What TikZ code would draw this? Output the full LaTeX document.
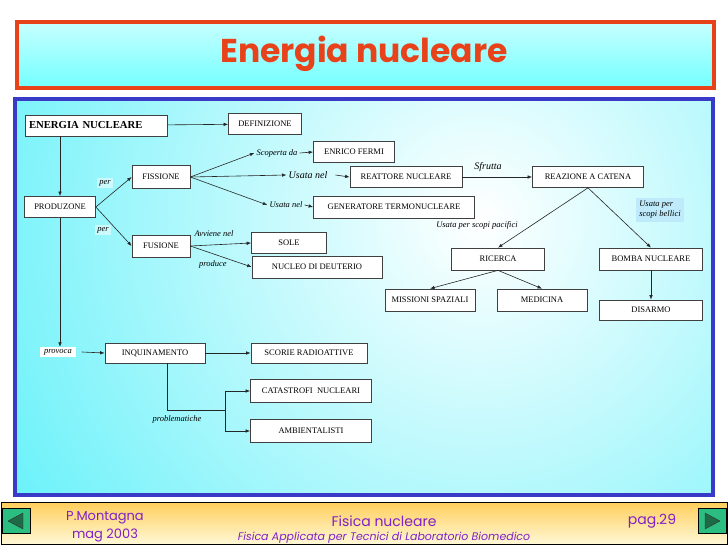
\documentclass[tikz,border=0pt]{standalone}
\usepackage{fontspec}
\setmainfont{Liberation Serif}
\newfontfamily\comicfont{Poppins}
\usetikzlibrary{arrows.meta, positioning}

\definecolor{titlered}{RGB}{232,66,26}
\definecolor{frameblue}{RGB}{58,58,200}
\definecolor{bgcyan}{RGB}{64,238,248}
\definecolor{footpurple}{RGB}{128,32,200}
\definecolor{footgold}{RGB}{255,206,90}
\definecolor{footcream}{RGB}{255,248,215}
\definecolor{btngreen}{RGB}{44,190,128}
\definecolor{btndark}{RGB}{30,105,70}

\tikzset{
  box/.style={draw=black!75, line width=0.7pt, fill=white, rectangle, inner sep=2pt, minimum height=21pt, font=\fontsize{8.5}{10}\selectfont},
  lbl/.style={font=\fontsize{8.5}{10}\selectfont\itshape, inner sep=2pt},
  link/.style={->, draw=black!85, line width=0.6pt},
  btn/.style={draw=black, fill=btngreen, minimum width=28pt, minimum height=25pt, inner sep=0pt},
  foot/.style={text=footpurple, font=\comicfont\fontsize{13}{14}\selectfont, inner sep=0pt},
}

\begin{document}
\begin{tikzpicture}[x=1pt, y=-1pt, >={Latex[length=4.5pt,width=3.5pt]}]
  \useasboundingbox (0,0) rectangle (728,546);
  \fill[white] (0,0) rectangle (728,546);

  % titolo
  \shade[top color=cyan!22, middle color=white, bottom color=cyan!55] (17,22) rectangle (714,88);
  \draw[titlered, line width=4pt] (17,22) rectangle (714,88);
  \node[font=\comicfont\bfseries\fontsize{33}{33}\selectfont, text=titlered] (title) at (364,54) {Energia nucleare};

  % riquadro
  \begin{scope}
    \clip (15,99) rectangle (713,495);
    \shade[inner color=white, outer color=bgcyan] (-220,-480) rectangle (1180,920);
  \end{scope}
  \draw[frameblue, line width=4pt] (15,99) rectangle (713,495);

  % nodi
  \node[box, minimum width=142pt, text width=134pt, align=left, font=\bfseries\fontsize{10.7}{12}\selectfont] (en) at (96,125.5) {ENERGIA NUCLEARE};
  \node[box, minimum width=73pt] (def) at (265,124) {DEFINIZIONE};
  \node[box, minimum width=71pt] (prod) at (60,207) {PRODUZONE};
  \node[box, minimum width=58pt, minimum height=23pt] (fiss) at (161,177) {FISSIONE};
  \node[box, minimum width=58pt, minimum height=22pt] (fus) at (161,246) {FUSIONE};
  \node[box, minimum width=81pt] (fermi) at (354,152) {ENRICO FERMI};
  \node[box, minimum width=112pt] (reatt) at (406,177) {REATTORE NUCLEARE};
  \node[box, minimum width=161pt, minimum height=22pt] (gen) at (394,207) {GENERATORE TERMONUCLEARE};
  \node[box, minimum width=75pt] (sole) at (289,243) {SOLE};
  \node[box, minimum width=130pt, minimum height=22pt] (nucleo) at (317,267) {NUCLEO DI DEUTERIO};
  \node[box, minimum width=111pt] (reaz) at (588,177) {REAZIONE A CATENA};
  \node[box, minimum width=93pt, minimum height=22pt] (ric) at (498,259) {RICERCA};
  \node[box, minimum width=103pt, minimum height=22pt] (bomba) at (651,259) {BOMBA NUCLEARE};
  \node[box, minimum width=90pt, minimum height=22pt] (miss) at (430,300) {MISSIONI SPAZIALI};
  \node[box, minimum width=90pt, minimum height=22pt] (med) at (542,300) {MEDICINA};
  \node[box, minimum width=103pt, minimum height=20pt] (dis) at (651,310) {DISARMO};
  \node[box, minimum width=100pt, minimum height=20pt] (inq) at (155,353) {INQUINAMENTO};
  \node[box, minimum width=116pt, minimum height=20pt] (scorie) at (309,353) {SCORIE RADIOATTIVE};
  \node[box, minimum width=121pt, minimum height=23pt] (cat) at (311,391) {CATASTROFI\ \ NUCLEARI};
  \node[box, minimum width=121pt, minimum height=23pt] (amb) at (311,431) {AMBIENTALISTI};

  % etichette
  \node[lbl] (scop) at (277,153) {Scoperta da};
  \node[lbl, font=\fontsize{10}{12}\selectfont\itshape] (usata1) at (308,175) {Usata nel};
  \node[lbl] (usata2) at (286,205) {Usata nel};
  \node[lbl, font=\fontsize{10}{12}\selectfont\itshape] (sfrutta) at (488,167) {Sfrutta};
  \node[lbl, fill=white, fill opacity=0.5, text opacity=1] (per1) at (105,183) {per};
  \node[lbl, fill=white, fill opacity=0.5, text opacity=1] (per2) at (103,230) {per};
  \node[lbl] (avv) at (214,234) {Avviene nel};
  \node[lbl] (prodc) at (213,264) {produce};
  \node[lbl, fill=white, inner xsep=4pt] (provoca) at (58,352) {provoca};
  \node[lbl] (probl) at (177,419) {problematiche};
  \node[lbl] (pacif) at (477,225) {Usata per scopi pacifici};
  \node[lbl, fill=cyan!25, align=left, inner sep=3pt] (bell) at (660,210) {Usata per\\scopi bellici};

  % collegamenti
  \draw[link] (en) -- (def);
  \draw[link] (prod.north |- en.south) -- (prod.north);
  \draw[link] (prod.east) -- (fiss.west);
  \draw[link] (prod.east) -- (fus.west);
  \draw[link] (fiss.east) -- (scop.west);
  \draw[link] (scop.east) -- (fermi.west);
  \draw[link] (fiss.east) -- (usata1.west);
  \draw[link] ([xshift=6pt]usata1.east) -- (reatt.west);
  \draw[link] (fiss.east) -- (usata2.west);
  \draw[link] (usata2.east) -- (gen.west);
  \draw[link] (reatt) -- (reaz);
  \draw[link] (fus.east) -- (sole.west);
  \draw[link] (fus.east) -- (nucleo.west);
  \draw[link] (reaz.south) -- (ric.north);
  \draw[link] (reaz.south) -- (bomba.north);
  \draw[link] (ric.south) -- (miss.north);
  \draw[link] (ric.south) -- (med.north);
  \draw[link] (bomba) -- (dis);
  \draw[link] (prod.south) -- (prod.south |- provoca.north);
  \draw[link] ([xshift=6pt]provoca.east) -- (inq.west);
  \draw[link] (inq) -- (scorie);
  \coordinate (split) at (225,410);
  \draw[draw=black!85, line width=0.6pt] ([xshift=12pt]inq.south) |- (split);
  \draw[link] (split) |- (cat.west);
  \draw[link] (split) |- (amb.west);

  % pie di pagina
  \shade[top color=footgold, bottom color=footcream] (1,502) rectangle (727,544);
  \draw[black, line width=0.8pt] (1,502) rectangle (727,544);
  \node[btn] (prev) at (16,521) {};
  \node[btn] (next) at (712,521) {};
  \draw[black!80, fill=btndark] ([xshift=-8pt]prev.center) -- ([xshift=7pt,yshift=8pt]prev.center) -- ([xshift=7pt,yshift=-8pt]prev.center) -- cycle;
  \draw[black!80, fill=btndark] ([xshift=8pt]next.center) -- ([xshift=-7pt,yshift=8pt]next.center) -- ([xshift=-7pt,yshift=-8pt]next.center) -- cycle;
  \node[foot] (autore) at (105,518) {P.Montagna};
  \node[foot] (data) at (105,535) {mag 2003};
  \node[foot, font=\comicfont\fontsize{14}{15}\selectfont] (corso) at (384,521) {Fisica nucleare};
  \node[foot, font=\comicfont\itshape\fontsize{11}{12}\selectfont] (sottot) at (384,538) {Fisica Applicata per Tecnici di Laboratorio Biomedico};
  \node[foot, font=\comicfont\fontsize{14}{15}\selectfont] (pagina) at (652,521) {pag.29};
\end{tikzpicture}
\end{document}
